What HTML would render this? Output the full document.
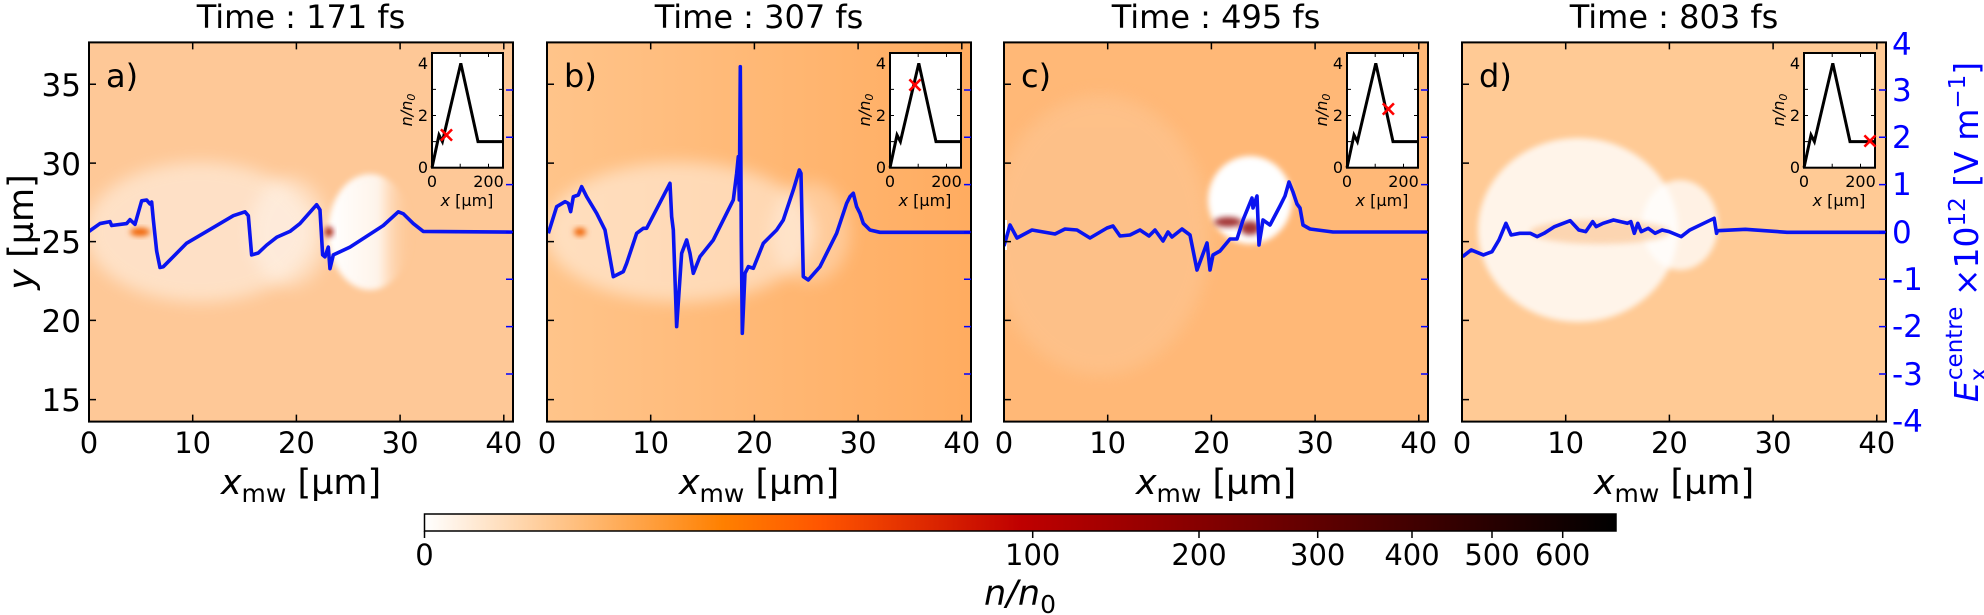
<!DOCTYPE html>
<html><head><meta charset="utf-8"><style>
html,body{margin:0;padding:0;background:#fff;}
svg{display:block;font-family:"DejaVu Sans","Liberation Sans",sans-serif;}
</style></head><body>
<svg width="1984" height="615" viewBox="0 0 1984 615" xmlns="http://www.w3.org/2000/svg">
<defs>
<clipPath id="ca"><rect x="89" y="42.4" width="424" height="379.2"/></clipPath>
<clipPath id="cb"><rect x="547" y="42.4" width="424" height="379.2"/></clipPath>
<clipPath id="cc"><rect x="1004" y="42.4" width="424" height="379.2"/></clipPath>
<clipPath id="cd"><rect x="1462" y="42.4" width="424" height="379.2"/></clipPath>
<filter id="bl" x="-50%" y="-50%" width="200%" height="200%"><feGaussianBlur stdDeviation="8"/></filter>
<filter id="bl2" x="-50%" y="-50%" width="200%" height="200%"><feGaussianBlur stdDeviation="3"/></filter>
<linearGradient id="gb" x1="0" x2="1" y1="0" y2="0"><stop offset="0" stop-color="#ffc48a"/><stop offset="1" stop-color="#ffac60"/></linearGradient>
<linearGradient id="wa" x1="0" x2="1"><stop offset="0" stop-color="#fff"/><stop offset="0.6" stop-color="#fff" stop-opacity="0.8"/><stop offset="1" stop-color="#fec897" stop-opacity="0"/></linearGradient>
<linearGradient id="cm" x1="0" x2="1"><stop offset="0" stop-color="#fff"/><stop offset="0.25" stop-color="#ff8000"/><stop offset="0.3333" stop-color="#ff5500"/><stop offset="0.5" stop-color="#bf0000"/><stop offset="1" stop-color="#000"/></linearGradient>
</defs>

<!-- titles -->
<g font-size="32" text-anchor="middle" fill="#000">
<text x="301" y="28">Time :  171 fs</text>
<text x="759" y="28">Time :  307 fs</text>
<text x="1216" y="28">Time :  495 fs</text>
<text x="1674" y="28">Time :  803 fs</text>
</g>

<!-- panel a -->
<g clip-path="url(#ca)">
<rect x="89" y="42" width="424" height="380" fill="#fec897"/>
<ellipse cx="200" cy="232" rx="115" ry="70" fill="#fff" opacity="0.45" filter="url(#bl)"/>
<ellipse cx="290" cy="232" rx="40" ry="55" fill="#fff" opacity="0.35" filter="url(#bl)"/>
<ellipse cx="370" cy="232" rx="42" ry="58" fill="url(#wa)" filter="url(#bl2)"/>
<ellipse cx="140" cy="232" rx="10" ry="4" fill="#f06000" filter="url(#bl2)"/>
<ellipse cx="329" cy="232" rx="4" ry="5" fill="#a01000" filter="url(#bl2)"/>
</g>
<!-- panel b -->
<g clip-path="url(#cb)">
<rect x="547" y="42" width="424" height="380" fill="url(#gb)"/>
<ellipse cx="680" cy="232" rx="135" ry="70" fill="#fff" opacity="0.45" filter="url(#bl)"/>
<ellipse cx="810" cy="232" rx="40" ry="50" fill="#fff" opacity="0.3" filter="url(#bl)"/>
<ellipse cx="580" cy="232" rx="6" ry="4" fill="#f06000" filter="url(#bl2)"/>
</g>
<!-- panel c -->
<g clip-path="url(#cc)">
<rect x="1004" y="42" width="424" height="380" fill="#ffb877"/>
<ellipse cx="1100" cy="235" rx="110" ry="140" fill="#fbd0a8" opacity="0.35" filter="url(#bl)"/>
<ellipse cx="1250" cy="200" rx="42" ry="44" fill="#fff" filter="url(#bl2)"/>
<ellipse cx="1228" cy="222" rx="14" ry="5" fill="#8b0000" opacity="0.8" filter="url(#bl2)"/>
<ellipse cx="1250" cy="228" rx="10" ry="7" fill="#8b0000" opacity="0.8" filter="url(#bl2)"/>
<rect x="1004" y="220" width="3" height="30" fill="#fff"/>
</g>
<!-- panel d -->
<g clip-path="url(#cd)">
<rect x="1462" y="42" width="424" height="380" fill="#ffca95"/>
<ellipse cx="1578" cy="230" rx="100" ry="92" fill="#fff" opacity="0.8" filter="url(#bl2)"/>
<ellipse cx="1680" cy="225" rx="38" ry="45" fill="#fff" opacity="0.75" filter="url(#bl2)"/>
<ellipse cx="1600" cy="232" rx="70" ry="12" fill="#f8a860" opacity="0.4" filter="url(#bl2)"/>
</g>

<!-- blue curves -->
<g fill="none" stroke="#0a14f0" stroke-width="3.6" stroke-linejoin="round">
<g clip-path="url(#ca)"><polyline vector-effect="non-scaling-stroke" transform="scale(0.3333,0.3922)" points="267,590 300,570 330,565 335,575 380,570 390,560 405,572 425,512 440,510 450,520 455,515 460,560 470,640 480,682 490,680 560,620 620,590 700,550 735,540 745,550 755,650 775,645 800,625 830,605 870,590 900,570 950,522 960,535 968,650 975,655 985,630 990,685 1000,650 1050,630 1150,575 1195,540 1210,545 1240,570 1270,590 1560,592"/></g>
<g clip-path="url(#cb)"><polyline vector-effect="non-scaling-stroke" transform="translate(500,0) scale(0.3333)" points="145,700 170,620 195,605 205,610 212,635 220,590 235,585 245,560 260,590 290,640 315,690 340,830 370,815 380,790 410,700 430,685 440,685 510,550 515,650 520,690 530,980 545,760 560,720 570,760 580,820 600,770 640,720 700,600 710,520 715,470 718,600 721,200 724,720 727,1000 735,820 745,800 760,805 790,730 810,710 830,690 850,660 880,570 898,510 903,520 910,830 925,840 960,800 1010,700 1040,610 1050,590 1060,580 1070,620 1080,640 1090,670 1110,690 1140,697 1420,697"/></g>
<g clip-path="url(#cc)"><polyline points="1004,246 1010,225 1017,238 1032,230 1055,234 1065,229 1077,230 1090,238 1107,228 1113,226 1120,236 1130,235 1140,230 1149,236 1155,230 1163,241 1168,232 1172,237 1182,229 1190,235 1197,270 1207,243 1210,270 1213,255 1220,251 1230,239 1237,239 1243,220 1252,198 1253,208 1257,196 1259,245 1263,220 1270,225 1280,206 1285,196 1289,182 1293,192 1297,204 1300,208 1303,225 1310,229 1333,232 1430,232"/></g>
<g clip-path="url(#cd)"><polyline vector-effect="non-scaling-stroke" transform="translate(1440,0) scale(0.347,0.3333)" points="65,770 90,750 125,765 150,755 170,720 190,670 205,705 230,700 260,700 280,710 300,700 330,680 375,662 400,690 420,695 440,665 450,680 470,670 500,660 540,670 550,665 560,700 570,670 580,695 600,685 620,700 640,690 660,695 695,710 720,690 760,670 790,655 797,700 800,692 880,688 1000,697 1290,697"/></g>
</g>

<!-- frames and ticks -->
<g fill="none" stroke="#000" stroke-width="2">
<rect x="89" y="42.4" width="424" height="379.2"/>
<rect x="547" y="42.4" width="424" height="379.2"/>
<rect x="1004" y="42.4" width="424" height="379.2"/>
<rect x="1462" y="42.4" width="424" height="379.2"/>
</g>
<g stroke="#000" stroke-width="1.5">
<path d="M89,421.6v-7M192.7,421.6v-7M296.4,421.6v-7M400.1,421.6v-7M503.8,421.6v-7M89,42.4v7M192.7,42.4v7M296.4,42.4v7M400.1,42.4v7M503.8,42.4v7M89,84.3h7M89,163.1h7M89,241.6h7M89,320.4h7M89,399.6h7"/>
<path transform="translate(458,0)" d="M89,421.6v-7M192.7,421.6v-7M296.4,421.6v-7M400.1,421.6v-7M503.8,421.6v-7M89,42.4v7M192.7,42.4v7M296.4,42.4v7M400.1,42.4v7M503.8,42.4v7M89,84.3h7M89,163.1h7M89,241.6h7M89,320.4h7M89,399.6h7"/>
<path transform="translate(915,0)" d="M89,421.6v-7M192.7,421.6v-7M296.4,421.6v-7M400.1,421.6v-7M503.8,421.6v-7M89,42.4v7M192.7,42.4v7M296.4,42.4v7M400.1,42.4v7M503.8,42.4v7M89,84.3h7M89,163.1h7M89,241.6h7M89,320.4h7M89,399.6h7"/>
<path transform="translate(1373,0)" d="M89,421.6v-7M192.7,421.6v-7M296.4,421.6v-7M400.1,421.6v-7M503.8,421.6v-7M89,42.4v7M192.7,42.4v7M296.4,42.4v7M400.1,42.4v7M503.8,42.4v7M89,84.3h7M89,163.1h7M89,241.6h7M89,320.4h7M89,399.6h7"/>
</g>
<g stroke="#0000ff" stroke-width="1.5">
<path d="M513,90h-7M513,137.3h-7M513,184.6h-7M513,232h-7M513,279.3h-7M513,326.6h-7M513,374h-7"/>
<path transform="translate(458,0)" d="M513,90h-7M513,137.3h-7M513,184.6h-7M513,232h-7M513,279.3h-7M513,326.6h-7M513,374h-7"/>
<path transform="translate(915,0)" d="M513,90h-7M513,137.3h-7M513,184.6h-7M513,232h-7M513,279.3h-7M513,326.6h-7M513,374h-7"/>
<path transform="translate(1373,0)" d="M513,90h-7M513,137.3h-7M513,184.6h-7M513,232h-7M513,279.3h-7M513,326.6h-7M513,374h-7"/>
</g>

<!-- panel letters -->
<g font-size="32" fill="#000">
<text x="106" y="87">a)</text><text x="564" y="87">b)</text><text x="1021" y="87">c)</text><text x="1479" y="87">d)</text>
</g>

<!-- tick labels -->
<g font-size="29" text-anchor="middle" fill="#000">
<text x="89" y="453">0</text><text x="192.7" y="453">10</text><text x="296.4" y="453">20</text><text x="400.1" y="453">30</text><text x="503.8" y="453">40</text>
<text x="547" y="453">0</text><text x="650.7" y="453">10</text><text x="754.4" y="453">20</text><text x="858.1" y="453">30</text><text x="961.8" y="453">40</text>
<text x="1004" y="453">0</text><text x="1107.7" y="453">10</text><text x="1211.4" y="453">20</text><text x="1315.1" y="453">30</text><text x="1418.8" y="453">40</text>
<text x="1462" y="453">0</text><text x="1565.7" y="453">10</text><text x="1669.4" y="453">20</text><text x="1773.1" y="453">30</text><text x="1876.8" y="453">40</text>
</g>
<g font-size="31" text-anchor="end" fill="#000">
<text x="81" y="96">35</text><text x="81" y="175">30</text><text x="81" y="253">25</text><text x="81" y="332">20</text><text x="81" y="411">15</text>
</g>
<g font-size="31" fill="#0000ff">
<text x="1892" y="55">4</text><text x="1892" y="101">3</text><text x="1892" y="148">2</text><text x="1892" y="195">1</text><text x="1892" y="243">0</text>
<text x="1892" y="290">-1</text><text x="1892" y="337">-2</text><text x="1892" y="385">-3</text><text x="1892" y="432">-4</text>
</g>

<!-- axis labels -->
<g font-size="35" fill="#000" text-anchor="middle">
<text x="301" y="494"><tspan font-style="italic">x</tspan><tspan font-size="25" dy="8">mw</tspan><tspan dy="-8"> [µm]</tspan></text>
<text x="759" y="494"><tspan font-style="italic">x</tspan><tspan font-size="25" dy="8">mw</tspan><tspan dy="-8"> [µm]</tspan></text>
<text x="1216" y="494"><tspan font-style="italic">x</tspan><tspan font-size="25" dy="8">mw</tspan><tspan dy="-8"> [µm]</tspan></text>
<text x="1674" y="494"><tspan font-style="italic">x</tspan><tspan font-size="25" dy="8">mw</tspan><tspan dy="-8"> [µm]</tspan></text>
<text transform="translate(33,232) rotate(-90)"><tspan font-style="italic">y</tspan> [µm]</text>
</g>
<text transform="translate(1978,232) rotate(-90)" font-size="33" fill="#0000ff" text-anchor="middle"><tspan font-style="italic">E</tspan><tspan font-size="23" dy="8">x</tspan><tspan font-size="23" dx="-12" dy="-24">centre</tspan><tspan dy="16"> ×10</tspan><tspan font-size="23" dy="-13">12</tspan><tspan dy="13"> [V m</tspan><tspan font-size="23" dy="-13">−1</tspan><tspan dy="13">]</tspan></text>

<!-- insets -->
<g>
<g transform="translate(432,0)">
<rect x="0" y="53" width="71" height="114.7" fill="#fff" stroke="#000" stroke-width="2"/>
<polyline points="0,167.7 7,135 10.4,141.6 28.8,63.3 46,141.6 71,141.6" fill="none" stroke="#000" stroke-width="3"/>
<path d="M0,141.6h4M0,115.5h4M0,89.4h4M71,141.6h-4M71,115.5h-4M71,89.4h-4M28.2,167.7v-4M56.5,167.7v-4M28.2,53v4M56.5,53v4" stroke="#000" stroke-width="1"/>
<g font-size="16" fill="#000"><text x="-4" y="173" text-anchor="end">0</text><text x="-4" y="121" text-anchor="end">2</text><text x="-4" y="69" text-anchor="end">4</text>
<text x="0" y="187" text-anchor="middle">0</text><text x="56.5" y="187" text-anchor="middle">200</text>
<text x="35" y="206" text-anchor="middle"><tspan font-style="italic">x</tspan> [µm]</text>
<text transform="translate(-20,110) rotate(-90)" text-anchor="middle" font-style="italic">n/n<tspan font-size="11" dy="3">0</tspan></text></g>
</g>
<g transform="translate(890,0)">
<rect x="0" y="53" width="71" height="114.7" fill="#fff" stroke="#000" stroke-width="2"/>
<polyline points="0,167.7 7,135 10.4,141.6 28.8,63.3 46,141.6 71,141.6" fill="none" stroke="#000" stroke-width="3"/>
<path d="M0,141.6h4M0,115.5h4M0,89.4h4M71,141.6h-4M71,115.5h-4M71,89.4h-4M28.2,167.7v-4M56.5,167.7v-4M28.2,53v4M56.5,53v4" stroke="#000" stroke-width="1"/>
<g font-size="16" fill="#000"><text x="-4" y="173" text-anchor="end">0</text><text x="-4" y="121" text-anchor="end">2</text><text x="-4" y="69" text-anchor="end">4</text>
<text x="0" y="187" text-anchor="middle">0</text><text x="56.5" y="187" text-anchor="middle">200</text>
<text x="35" y="206" text-anchor="middle"><tspan font-style="italic">x</tspan> [µm]</text>
<text transform="translate(-20,110) rotate(-90)" text-anchor="middle" font-style="italic">n/n<tspan font-size="11" dy="3">0</tspan></text></g>
</g>
<g transform="translate(1347,0)">
<rect x="0" y="53" width="71" height="114.7" fill="#fff" stroke="#000" stroke-width="2"/>
<polyline points="0,167.7 7,135 10.4,141.6 28.8,63.3 46,141.6 71,141.6" fill="none" stroke="#000" stroke-width="3"/>
<path d="M0,141.6h4M0,115.5h4M0,89.4h4M71,141.6h-4M71,115.5h-4M71,89.4h-4M28.2,167.7v-4M56.5,167.7v-4M28.2,53v4M56.5,53v4" stroke="#000" stroke-width="1"/>
<g font-size="16" fill="#000"><text x="-4" y="173" text-anchor="end">0</text><text x="-4" y="121" text-anchor="end">2</text><text x="-4" y="69" text-anchor="end">4</text>
<text x="0" y="187" text-anchor="middle">0</text><text x="56.5" y="187" text-anchor="middle">200</text>
<text x="35" y="206" text-anchor="middle"><tspan font-style="italic">x</tspan> [µm]</text>
<text transform="translate(-20,110) rotate(-90)" text-anchor="middle" font-style="italic">n/n<tspan font-size="11" dy="3">0</tspan></text></g>
</g>
<g transform="translate(1804,0)">
<rect x="0" y="53" width="71" height="114.7" fill="#fff" stroke="#000" stroke-width="2"/>
<polyline points="0,167.7 7,135 10.4,141.6 28.8,63.3 46,141.6 71,141.6" fill="none" stroke="#000" stroke-width="3"/>
<path d="M0,141.6h4M0,115.5h4M0,89.4h4M71,141.6h-4M71,115.5h-4M71,89.4h-4M28.2,167.7v-4M56.5,167.7v-4M28.2,53v4M56.5,53v4" stroke="#000" stroke-width="1"/>
<g font-size="16" fill="#000"><text x="-4" y="173" text-anchor="end">0</text><text x="-4" y="121" text-anchor="end">2</text><text x="-4" y="69" text-anchor="end">4</text>
<text x="0" y="187" text-anchor="middle">0</text><text x="56.5" y="187" text-anchor="middle">200</text>
<text x="35" y="206" text-anchor="middle"><tspan font-style="italic">x</tspan> [µm]</text>
<text transform="translate(-20,110) rotate(-90)" text-anchor="middle" font-style="italic">n/n<tspan font-size="11" dy="3">0</tspan></text></g>
</g>
<g font-size="22" font-weight="bold" fill="#ff0000" text-anchor="middle">
<text x="446.5" y="142">×</text><text x="915" y="92">×</text><text x="1388.3" y="116">×</text><text x="1870" y="148">×</text>
</g>
</g>

<!-- colorbar -->
<rect x="424.5" y="514" width="1191.5" height="17" fill="url(#cm)" stroke="#000" stroke-width="1.5"/>
<path d="M424.5,531v7M1032.7,531v7M1199,531v7M1317.7,531v7M1412,531v7M1492,531v7M1562.7,531v7" stroke="#000" stroke-width="1.5"/>
<g font-size="29" text-anchor="middle" fill="#000">
<text x="424.5" y="565">0</text><text x="1032.7" y="565">100</text><text x="1199" y="565">200</text><text x="1317.7" y="565">300</text><text x="1412" y="565">400</text><text x="1492" y="565">500</text><text x="1562.7" y="565">600</text>
</g>
<text x="1020" y="605" font-size="35" text-anchor="middle" font-style="italic">n/n<tspan font-size="25" dy="8" font-style="normal">0</tspan></text>
</svg>
</body></html>
